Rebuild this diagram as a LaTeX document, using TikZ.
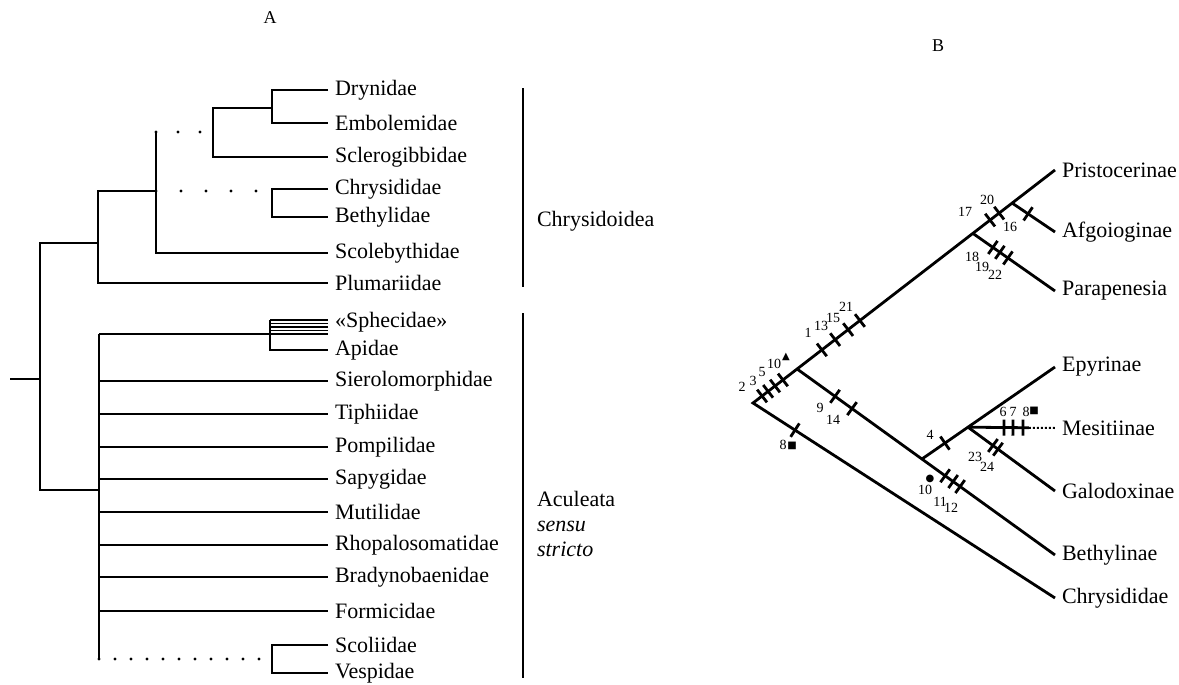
\documentclass[tikz,border=0pt]{standalone}
\usepackage{fontspec}
\setmainfont{Liberation Serif}
\newfontfamily\symfont{DejaVu Sans}
\usetikzlibrary{calc}

% cross-bar on a branch: from, to, position
\newcommand{\tickmark}[3]{%
  \draw[lineB] ($(#1)!#3!(#2)!4pt!90:(#2)$) -- ($(#1)!#3!(#2)!4pt!-90:(#2)$);}

\begin{document}
\begin{tikzpicture}[x=0.5pt, y=-0.5pt,
    taxon/.style={anchor=west, font=\fontsize{11}{12.3}\selectfont},
    panel/.style={font=\fontsize{9}{10}\selectfont},
    num/.style={inner sep=0pt, font=\fontsize{7}{8}\selectfont},
    sym/.style={inner sep=0pt, font=\symfont\fontsize{5}{6}\selectfont},
    branch/.style={line width=1.2pt},
    lineB/.style={line width=1.4pt},
    dots/.style={line width=1.6pt, line cap=round, dash pattern=on 0pt off #1}]
    \useasboundingbox (0,0) rectangle (1179,685);

    \node[panel] (titleA) at (270,18) {A};
    \node[panel] (titleB) at (938,46) {B};

    % panel A, taxa
    \node[taxon] (dry) at (328,90) {Drynidae};
    \node[taxon] (emb) at (328,123) {Embolemidae};
    \node[taxon] (scl) at (328,157) {Sclerogibbidae};
    \node[taxon] (chy) at (328,189) {Chrysididae};
    \node[taxon] (bey) at (328,217) {Bethylidae};
    \node[taxon] (scb) at (328,253) {Scolebythidae};
    \node[taxon] (plu) at (328,283) {Plumariidae};
    \node[taxon] (sph) at (328,322) {«Sphecidae»};
    \node[taxon] (api) at (328,350) {Apidae};
    \node[taxon] (sie) at (328,381) {Sierolomorphidae};
    \node[taxon] (tip) at (328,414) {Tiphiidae};
    \node[taxon] (pom) at (328,447) {Pompilidae};
    \node[taxon] (sap) at (328,479) {Sapygidae};
    \node[taxon] (mut) at (328,512) {Mutilidae};
    \node[taxon] (rho) at (328,545) {Rhopalosomatidae};
    \node[taxon] (bra) at (328,577) {Bradynobaenidae};
    \node[taxon] (frm) at (328,611) {Formicidae};
    \node[taxon] (sco) at (328,645) {Scoliidae};
    \node[taxon] (ves) at (328,673) {Vespidae};

    % panel A, tree
    \coordinate (rA) at (40,379);
    \coordinate (chrA) at (98,243);
    \coordinate (acuA) at (99,490);
    \draw[branch] (10,379) coordinate (stem) -- (rA);
    \draw[branch] (chrA) -| (rA) |- (acuA);

    \coordinate (c1) at (156,191);
    \draw[branch] (c1) -| (98,283) -- (plu.west);
    \draw[branch] (156,132) coordinate (c2) -- (156,253) -- (scb.west);
    \draw[dots=11pt] (c2) -- (213,132);
    \draw[branch] (272,108) coordinate (c3) -| (213,157) -- (scl.west);
    \draw[branch] (dry.west) -| (272,123) -- (emb.west);
    \draw[dots=12.5pt] (c1) -- (272,191);
    \draw[branch] (chy.west) -| (272,217) -- (bey.west);

    \draw[branch] (99,334) coordinate (c4) -- (99,659) coordinate (c5);
    \draw[branch] (c4) -- (270,334);
    \foreach \y in {320,323.5,...,334}
        \draw[line width=0.7pt] (270,\y) -- (sph.west |- 0,\y);
    \draw[branch] (270,320) -- (270,350) -- (api.west);
    \foreach \n in {sie,tip,pom,sap,mut,rho,bra,frm}
        \draw[branch] (c4 |- \n.west) -- (\n.west);
    \draw[dots=8pt] (c5) -- (272,659);
    \draw[branch] (sco.west) -| (272,673) -- (ves.west);

    % groups
    \draw[branch] (523,88) coordinate (g1) -- (523,287) coordinate (g2);
    \node[taxon] (chrlab) at (530,221) {Chrysidoidea};
    \draw[branch] (523,313) coordinate (g3) -- (523,678) coordinate (g4);
    \node[taxon, align=left] (aculab) at (530,524)
        {Aculeata\\\textit{sensu}\\\textit{stricto}};

    % panel B, taxa
    \node[taxon] (pri) at (1055,170) {Pristocerinae};
    \node[taxon] (afg) at (1055,232) {Afgoioginae};
    \node[taxon] (par) at (1055,291) {Parapenesia};
    \node[taxon] (epy) at (1055,367) {Epyrinae};
    \node[taxon] (mes) at (1055,428) {Mesitiinae};
    \node[taxon] (gal) at (1055,491) {Galodoxinae};
    \node[taxon] (bet) at (1055,555) {Bethylinae};
    \node[taxon] (chd) at (1055,598) {Chrysididae};

    % panel B, tree
    \coordinate (rB) at (753,403);
    \coordinate (nBet) at ($(rB)!0.146!(pri.west)$);
    \coordinate (nPar) at ($(rB)!0.728!(pri.west)$);
    \coordinate (nAfg) at ($(rB)!0.858!(pri.west)$);
    \coordinate (nEpy) at ($(nBet)!0.484!(bet.west)$);
    \coordinate (nMes) at ($(nEpy)!0.346!(epy.west)$);
    \draw[lineB] (chd.west) -- (rB) -- (pri.west);
    \draw[lineB] (nAfg) -- (afg.west);
    \draw[lineB] (nPar) -- (par.west);
    \draw[lineB] (nBet) -- (bet.west);
    \draw[lineB] (nEpy) -- (epy.west);
    \draw[lineB] (nMes) -- (gal.west);
    \draw[lineB] (nMes) -- ($(nMes)!0.7!(mes.west)$) coordinate (mDot);
    \draw[line width=1pt, densely dotted] (mDot) -- (mes.west);

    % characters
    \foreach \t in {0.030,0.050,0.073,0.099,0.228,0.272,0.315,0.354,0.785,0.815}
        {\tickmark{rB}{pri.west}{\t}}
    \tickmark{rB}{chd.west}{0.139}
    \foreach \t in {0.147,0.213,0.574,0.605,0.632}
        {\tickmark{nBet}{bet.west}{\t}}
    \tickmark{nEpy}{epy.west}{0.173}
    \foreach \t in {0.414,0.517,0.632}
        {\tickmark{nMes}{mes.west}{\t}}
    \foreach \t in {0.287,0.345}
        {\tickmark{nMes}{gal.west}{\t}}
    \foreach \t in {0.244,0.329,0.427}
        {\tickmark{nPar}{par.west}{\t}}
    \tickmark{nAfg}{afg.west}{0.372}

    \foreach \s/\x/\y [count=\i] in {2/742/387, 3/753/381, 5/762/372, 10/774/364,
        1/808/333, 13/821/326, 15/833/318, 21/846/307, 9/820/408, 14/833/420,
        8/783/445, 4/930/435, 6/1003/412, 7/1013/412, 8/1026/412, 23/975/457,
        24/987/467, 10/925/490, 11/940/502, 12/951/508, 17/965/212, 20/987/200,
        16/1010/227, 18/972/257, 19/982/267, 22/995/275}
        \node[num] (num\i) at (\x,\y) {\s};
    \node[sym] (tri) at (786,357) {▲};
    \node[sym] (sqA) at (792,446) {■};
    \node[sym] (sqB) at (1034,411) {■};
    \node[sym] (dot) at (930,479) {●};
\end{tikzpicture}
\end{document}
